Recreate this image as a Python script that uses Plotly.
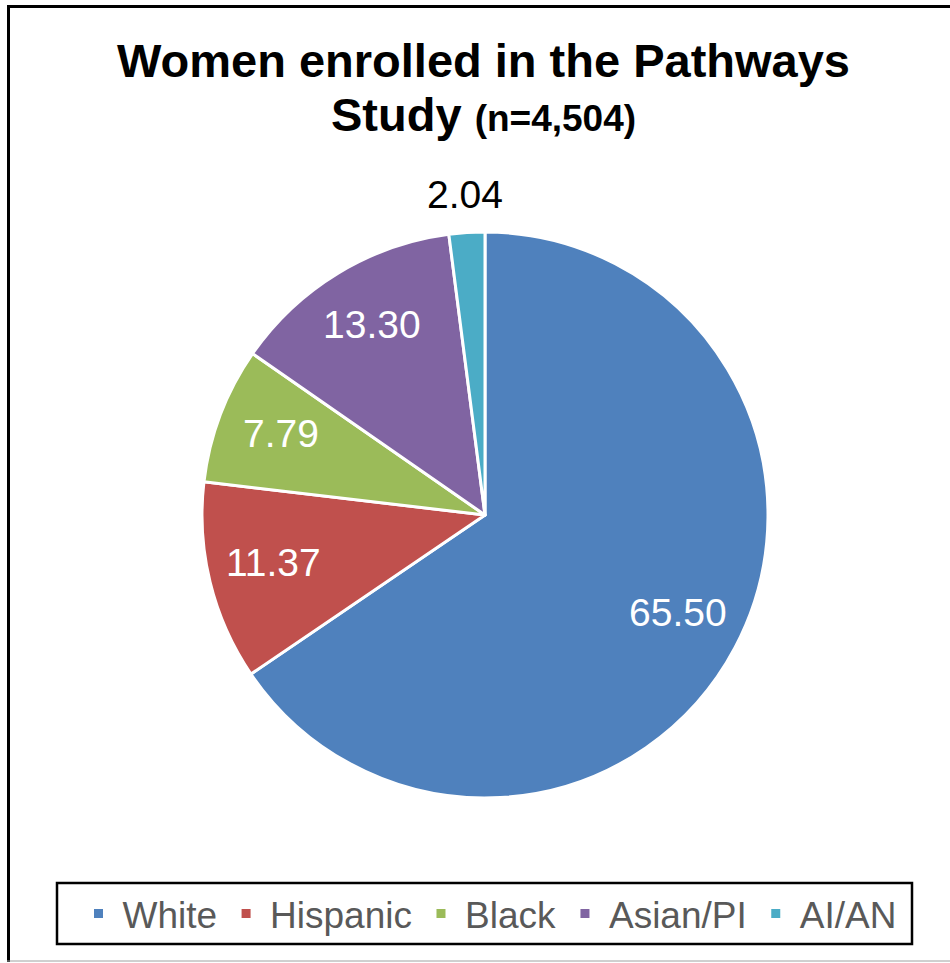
import math
import plotly.graph_objects as go

# Data
categories = ["White", "Hispanic", "Black", "Asian/PI", "AI/AN"]
values = [65.50, 11.37, 7.79, 13.30, 2.04]
colors = ["#4F81BD", "#C0504D", "#9BBB59", "#8064A2", "#4BACC6"]
label_inside = [True, True, True, True, False]

W, H = 950, 963
FONT = "Liberation Sans, Arial, sans-serif"

# pie geometry (pixels)
cx, cy, R = 485, 515, 283

fig = go.Figure(
    go.Pie(
        labels=categories,
        values=values,
        sort=False,
        direction="clockwise",
        rotation=0,
        marker=dict(colors=colors, line=dict(color="white", width=3)),
        textinfo="none",
        hoverinfo="label+value",
        domain=dict(
            x=[(cx - R) / W, (cx + R) / W],
            y=[1 - (cy + R) / H, 1 - (cy - R) / H],
        ),
    )
)

# data labels placed along each slice's mid-angle (derived from the values)
total = sum(values)
annotations = []
cum = 0.0
for v, inside in zip(values, label_inside):
    mid = (cum + v / 2) / total * 2 * math.pi
    cum += v
    r = 0.77 * R if inside else 1.12 * R
    px = cx + r * math.sin(mid)
    py = cy - r * math.cos(mid) - 4
    annotations.append(dict(
        x=px / W, y=1 - py / H, xref="paper", yref="paper",
        text=f"{v:.2f}", showarrow=False, xanchor="center", yanchor="middle",
        font=dict(family=FONT, size=39, color="white" if inside else "black"),
    ))

# title lines
annotations.append(dict(
    x=483 / W, y=1 - 60 / H, xref="paper", yref="paper",
    text="<b>Women enrolled in the Pathways</b>", showarrow=False,
    xanchor="center", yanchor="middle",
    font=dict(family=FONT, size=47, color="black"),
))
annotations.append(dict(
    x=483 / W, y=1 - 114 / H, xref="paper", yref="paper",
    text="<b>Study <span style='font-size:37px'>(n=4,504)</span></b>", showarrow=False,
    xanchor="center", yanchor="middle",
    font=dict(family=FONT, size=47, color="black"),
))

shapes = [
    # outer frame
    dict(type="line", xref="paper", yref="paper", x0=8.5 / W, x1=8.5 / W,
         y0=1 - 962 / H, y1=1 - 5 / H, line=dict(color="black", width=3)),
    dict(type="line", xref="paper", yref="paper", x0=7 / W, x1=1.02,
         y0=1 - 6.5 / H, y1=1 - 6.5 / H, line=dict(color="black", width=3)),
    dict(type="line", xref="paper", yref="paper", x0=7 / W, x1=1.02,
         y0=1 - 961 / H, y1=1 - 961 / H, line=dict(color="#A0A0A0", width=1)),
    # legend frame
    dict(type="rect", xref="paper", yref="paper", x0=57 / W, x1=912 / W,
         y0=1 - 944 / H, y1=1 - 883 / H, line=dict(color="black", width=2.5)),
]

fig.update_layout(
    width=W,
    height=H,
    margin=dict(l=0, r=0, t=0, b=0),
    paper_bgcolor="white",
    plot_bgcolor="white",
    showlegend=True,
    legend=dict(
        orientation="h",
        x=488 / W,
        xanchor="center",
        y=1 - 914 / H,
        yanchor="middle",
        itemwidth=38,
        font=dict(family=FONT, size=37, color="#595959"),
        bgcolor="rgba(0,0,0,0)",
    ),
    annotations=annotations,
    shapes=shapes,
)

fig.write_html(
    "out.html",
    config={"displayModeBar": False},
    post_script="document.body.style.margin='0';document.body.style.overflow='hidden';",
)
